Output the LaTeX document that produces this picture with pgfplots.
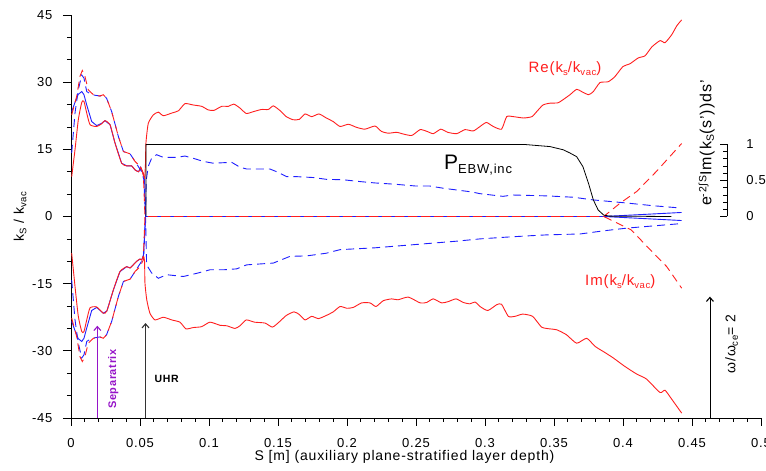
\documentclass[border=0pt]{standalone}
\usepackage{fontspec}
\setmainfont{Liberation Sans}[LetterSpace=6]
\usepackage{pgfplots}
\pgfplotsset{compat=1.18}
\usepackage{pgfplotstable}
\usetikzlibrary{arrows.meta}
\definecolor{sepcol}{RGB}{150,20,200}
\definecolor{myred}{RGB}{255,30,30}
\definecolor{myblue}{RGB}{30,30,255}
\newcommand{\fs}[1]{\fontsize{#1}{1.2\dimexpr #1\relax}\selectfont}
\newcommand{\sub}[2][9.5bp]{\raisebox{-2.5bp}{\fontsize{#1}{#1}\selectfont #2}}

\pgfplotstableread{
x y
0.0005 8.9
0.0029 14.9
0.0053 21.6
0.0078 25.5
0.0094 25.7
0.0114 23.1
0.0138 20.5
0.0186 20.1
0.0222 20.7
0.0246 21.4
0.0283 20.5
0.0319 16.4
0.0367 11.9
0.0404 11.3
0.0440 11.3
0.0464 10.4
0.0490 10.0
0.0505 11.0
0.0520 9.7
0.0533 8.5
0.0540 12.0
0.0543 16.4
0.0560 20.8
0.0597 22.7
0.0633 23.3
0.0669 22.5
0.0730 23.1
0.0778 23.6
0.0826 25.2
0.0886 24.9
0.0947 24.6
0.0995 23.8
0.1036 23.7
0.1092 24.6
0.1140 24.6
0.1180 25.1
0.1225 24.2
0.1270 23.0
0.1320 23.4
0.1380 23.9
0.1430 23.9
0.1466 24.7
0.1517 23.6
0.1560 22.3
0.1610 21.6
0.1655 21.7
0.1696 22.9
0.1744 22.3
0.1797 22.9
0.1850 22.0
0.1900 21.2
0.1950 20.1
0.2010 20.6
0.2070 19.9
0.2130 19.5
0.2203 20.2
0.2250 19.0
0.2300 18.6
0.2360 18.8
0.2410 18.4
0.2470 18.1
0.2530 19.4
0.2580 19.0
0.2625 18.5
0.2680 19.5
0.2730 18.8
0.2795 18.5
0.2855 19.4
0.2915 19.1
0.2964 20.1
0.3010 21.0
0.3060 20.1
0.3120 19.5
0.3157 22.3
0.3205 22.3
0.3280 22.0
0.3340 22.3
0.3374 23.4
0.3420 24.9
0.3470 25.3
0.3530 25.4
0.3580 26.4
0.3616 27.2
0.3664 28.4
0.3700 27.9
0.3750 27.2
0.3785 27.9
0.3833 29.9
0.3893 30.1
0.3940 31.2
0.4000 33.5
0.4050 34.1
0.4110 35.4
0.4160 35.9
0.4210 37.9
0.4270 39.3
0.4304 38.8
0.4353 40.6
0.4390 42.6
0.4425 43.9
}\reup

\pgfplotstableread{
x y
0.0005 -8.2
0.0029 -15.6
0.0053 -22.3
0.0078 -25.7
0.0094 -25.7
0.0114 -23.1
0.0138 -20.4
0.0186 -20.2
0.0234 -21.6
0.0260 -21.1
0.0307 -16.4
0.0355 -12.3
0.0404 -11.2
0.0428 -11.5
0.0476 -10.0
0.0500 -9.5
0.0512 -9.7
0.0525 -8.8
0.0533 -10.0
0.0536 -14.9
0.0549 -18.6
0.0572 -21.6
0.0609 -23.1
0.0669 -22.5
0.0730 -23.1
0.0790 -23.6
0.0833 -25.1
0.0886 -24.8
0.0947 -24.6
0.1007 -23.6
0.1080 -24.3
0.1128 -24.4
0.1188 -25.0
0.1225 -24.4
0.1270 -23.1
0.1330 -23.6
0.1406 -23.8
0.1460 -24.7
0.1514 -23.4
0.1560 -22.1
0.1616 -21.3
0.1655 -21.9
0.1696 -23.1
0.1744 -22.3
0.1793 -22.8
0.1850 -22.1
0.1900 -21.3
0.1950 -20.1
0.2000 -20.5
0.2046 -20.3
0.2106 -19.3
0.2167 -19.3
0.2210 -20.1
0.2263 -18.8
0.2324 -18.4
0.2370 -18.6
0.2444 -18.0
0.2530 -19.3
0.2577 -19.2
0.2625 -18.4
0.2686 -19.3
0.2734 -19.0
0.2790 -18.4
0.2843 -19.2
0.2890 -19.5
0.2928 -19.1
0.2964 -20.1
0.3020 -21.0
0.3085 -19.7
0.3120 -19.6
0.3169 -22.3
0.3217 -22.3
0.3273 -21.8
0.3345 -22.3
0.3410 -24.7
0.3470 -25.1
0.3520 -25.3
0.3590 -26.4
0.3664 -28.3
0.3737 -27.2
0.3797 -29.0
0.3870 -30.4
0.3930 -31.6
0.4014 -33.5
0.4100 -35.2
0.4170 -36.3
0.4268 -39.3
0.4304 -38.8
0.4353 -40.8
0.4425 -43.9
}\relo

\pgfplotstableread{
x y
0.0005 23.4
0.0029 25.5
0.0053 27.3
0.0078 27.9
0.0094 27.2
0.0114 24.9
0.0150 21.2
0.0186 20.3
0.0222 20.8
0.0246 21.4
0.0283 20.5
0.0319 16.4
0.0367 11.9
0.0404 11.3
0.0440 11.3
0.0464 10.4
0.0490 10.0
0.0505 11.0
0.0520 9.7
0.0533 8.5
0.0540 0
0.3860 0
0.4425 0.9
}\bsup

\pgfplotstableread{
x y
0.0005 -23.4
0.0029 -25.5
0.0053 -27.3
0.0078 -27.9
0.0094 -27.2
0.0114 -24.9
0.0150 -21.0
0.0186 -20.3
0.0234 -21.6
0.0260 -21.1
0.0307 -16.4
0.0355 -12.3
0.0404 -11.2
0.0428 -11.5
0.0476 -10.0
0.0500 -9.5
0.0512 -9.7
0.0525 -8.8
0.0540 0
0.3860 0
0.4425 -0.9
}\bslo

\pgfplotstableread{
x y
0.0005 22.7
0.0041 26.8
0.0065 31.3
0.0082 32.6
0.0101 31.3
0.0125 28.3
0.0162 27.2
0.0210 26.9
0.0234 27.2
0.0258 26.4
0.0295 23.4
0.0343 17.9
0.0380 14.5
0.0428 14.0
0.0464 12.3
0.0500 11.2
0.0524 9.7
0.0536 0
0.3860 0
0.3980 3.0
0.4100 5.6
0.4240 10.0
0.4425 16.3
}\rdup

\pgfplotstableread{
x y
0.0005 -22.7
0.0041 -26.8
0.0065 -31.3
0.0082 -32.4
0.0101 -31.3
0.0125 -28.3
0.0162 -27.2
0.0210 -26.9
0.0234 -27.2
0.0258 -26.4
0.0295 -23.4
0.0343 -17.9
0.0380 -14.5
0.0428 -14.0
0.0464 -12.3
0.0500 -11.2
0.0524 -9.7
0.0536 0
0.3860 0
0.4060 -3.0
0.4196 -7.4
0.4317 -11.2
0.4425 -16.0
}\rdlo

\pgfplotstableread{
x y
0.0005 14.2
0.0029 23.1
0.0053 28.3
0.0078 31.6
0.0094 30.9
0.0114 27.9
0.0150 27.2
0.0210 26.9
0.0234 27.2
0.0258 26.4
0.0295 23.4
0.0343 17.9
0.0380 14.5
0.0428 14.0
0.0464 12.3
0.0512 10.0
0.0528 8.2
0.0540 0
0.0548 -10.8
0.0584 -12.6
0.0633 -13.8
0.0693 -13.0
0.0814 -13.4
0.0923 -12.6
0.1007 -11.9
0.1104 -11.9
0.1200 -11.7
0.1273 -10.8
0.1466 -10.4
0.1587 -8.9
0.1708 -8.8
0.1850 -8.2
0.1950 -7.4
0.2200 -7.0
0.2400 -6.5
0.2600 -6.0
0.2800 -5.5
0.2964 -5.0
0.3160 -4.6
0.3326 -4.3
0.3450 -4.1
0.3690 -3.9
0.3860 -3.2
0.4027 -2.6
0.4220 -2.1
0.4415 -1.6
}\bdA

\pgfplotstableread{
x y
0.0005 -14.2
0.0029 -23.1
0.0053 -28.3
0.0078 -31.6
0.0094 -30.9
0.0114 -27.9
0.0150 -27.2
0.0210 -26.9
0.0234 -27.2
0.0258 -26.4
0.0295 -23.4
0.0343 -17.9
0.0380 -14.5
0.0428 -14.0
0.0464 -12.3
0.0512 -10.0
0.0528 -8.2
0.0540 0
0.0545 8.0
0.0560 11.2
0.0584 13.0
0.0620 13.8
0.0669 13.2
0.0765 13.2
0.0826 13.5
0.0886 13.0
0.0959 12.3
0.1031 11.9
0.1164 12.1
0.1225 11.0
0.1273 10.6
0.1442 10.6
0.1490 10.0
0.1563 8.9
0.1635 8.9
0.1756 8.7
0.1850 8.3
0.1973 8.2
0.2094 7.8
0.2200 7.5
0.2350 7.2
0.2500 6.8
0.2600 6.8
0.2700 6.3
0.2800 5.9
0.2900 5.5
0.2964 5.1
0.3130 4.5
0.3200 4.8
0.3450 4.6
0.3640 4.3
0.3785 3.7
0.4030 3.0
0.4220 2.4
0.4415 1.9
}\bdB

\pgfplotstableread{
x p
0.0543 0
0.0543 1.0
0.3280 1.0
0.3374 0.985
0.3470 0.97
0.3568 0.925
0.3616 0.88
0.3664 0.83
0.3710 0.69
0.3750 0.46
0.3785 0.23
0.3820 0.09
0.3860 0.02
0.3900 0.005
0.4350 0.0
}\pebw

\begin{document}
\begin{tikzpicture}
\begin{axis}[name=main, scale only axis, width=690bp, height=403bp,
  xmin=0, xmax=0.5, ymin=-45, ymax=45, clip=false,
  axis x line*=bottom, axis y line*=left,
  axis line style={black, line width=0.8bp},
  scaled ticks=false,
  xtick={0,0.05,0.1,0.15,0.2,0.25,0.3,0.35,0.4,0.45,0.5},
  xticklabels={0,0.05,0.1,0.15,0.2,0.25,0.3,0.35,0.4,0.45,0.5},
  ytick={-45,-30,-15,0,15,30,45},
  yticklabels={-45,-30,-15,0,15,30,45},
  minor x tick num=4, minor y tick num=2,
  tick align=outside, major tick length=8bp, minor tick length=4bp,
  tick style={black, line width=0.7bp},
  ticklabel style={font=\fs{13bp}},
  xticklabel style={yshift=-9bp},
  yticklabel style={xshift=-7bp},
  xlabel={S [m] (auxiliary plane-stratified layer depth)},
  xlabel style={at={(axis description cs:0.4834,0)}, anchor=center, yshift=-38.7bp, font=\fs{14bp}},
  ylabel={k\sub{S} / k\sub{vac}},
  ylabel style={at={([xshift=-51bp]axis description cs:0,0.5)}, anchor=center, font=\fs{14bp}},
]
% blue solid
\addplot[myblue, line width=0.9bp] table[x=x,y=y] {\bsup};
\addplot[myblue, line width=0.9bp] table[x=x,y=y] {\bslo};
% red solid (Re)
\addplot[myred, line width=0.9bp, smooth, tension=0.35] table[x=x,y=y] {\reup};
\addplot[myred, line width=0.9bp, smooth, tension=0.35] table[x=x,y=y] {\relo};
% blue dashed
\addplot[myblue, line width=0.9bp, dash pattern=on 8bp off 5bp] table[x=x,y=y] {\bdA};
\addplot[myblue, line width=0.9bp, dash pattern=on 8bp off 5bp] table[x=x,y=y] {\bdB};
% red dashed (Im)
\addplot[myred, line width=0.9bp, dash pattern=on 8bp off 5bp] table[x=x,y=y] {\rdup};
\addplot[myred, line width=0.9bp, dash pattern=on 8bp off 5bp] table[x=x,y=y] {\rdlo};
% P_EBW (scaled to the small right axis: 1 <-> 16.1)
\addplot[black, line width=0.8bp] table[x=x, y expr=\thisrow{p}*16.1] {\pebw};

% small right axis (0..1 mapped to 0..16.1)
\draw[black, line width=0.8bp] (axis cs:0.4754,0) -- (axis cs:0.4754,16.1);
\pgfplotsinvokeforeach{1.61,3.22,4.83,6.44,9.66,11.27,12.88,14.49}{
  \draw[black, line width=0.7bp] (axis cs:0.4754,#1) -- ([xshift=-4bp]axis cs:0.4754,#1);
}
\pgfplotsinvokeforeach{0,8.05,16.1}{
  \draw[black, line width=0.7bp] (axis cs:0.4754,#1) -- ([xshift=-7.5bp]axis cs:0.4754,#1);
}
\node[anchor=west, font=\fs{13bp}, inner sep=0pt] at ([xshift=19bp]axis cs:0.4754,0) {0};
\node[anchor=west, font=\fs{13bp}, inner sep=0pt] at ([xshift=19bp]axis cs:0.4754,8.05) {0.5};
\node[anchor=west, font=\fs{13bp}, inner sep=0pt] at ([xshift=19bp]axis cs:0.4754,16.1) {1};
\node[rotate=90, font=\fs{16bp}] at (axis cs:0.4606,16.4)
  {e\raisebox{5bp}{\fontsize{10.5bp}{11bp}\selectfont -2∫S}Im(k\sub[10.5bp]{S}(s'))ds'};

% labels
\node[text=myred, font=\fs{15bp}] at (axis cs:0.358,33) {Re(k\sub{s}/k\sub{vac})};
\node[text=myred, font=\fs{15bp}] at (axis cs:0.398,-14.6) {Im(k\sub{s}/k\sub{vac})};
\node[font=\fs{21bp}] at (axis cs:0.295,11.5) {P\raisebox{-4bp}{\fontsize{13bp}{14bp}\selectfont EBW,inc}};

% arrows
\draw[black!80, line width=0.9bp, -{Straight Barb[length=4bp,width=7bp,line width=1.1bp]}] (axis cs:0.054,-45) -- (axis cs:0.054,-23.8);
\node[font=\bfseries\fs{10.5bp}] at (axis cs:0.0693,-36.2) {UHR};
\draw[sepcol, line width=0.9bp, -{Straight Barb[length=4bp,width=7bp,line width=1.1bp]}] (axis cs:0.0191,-45) -- (axis cs:0.0191,-24.4);
\node[rotate=90, text=sepcol, font=\bfseries\fs{11bp}] at (axis cs:0.0307,-36.3) {Separatrix};
\draw[black, line width=0.9bp, -{Straight Barb[length=4bp,width=7bp,line width=1.1bp]}] (axis cs:0.463,-45) -- (axis cs:0.463,-17.9);
\node[rotate=90, font=\fs{14bp}] at (axis cs:0.4787,-28.5) {ω/ω\sub{ce}= 2};
\end{axis}
\pgfresetboundingbox
\path[use as bounding box] ([xshift=-71bp,yshift=-53bp]main.south west) rectangle ([xshift=5bp,yshift=15bp]main.north east);
\end{tikzpicture}
\end{document}
